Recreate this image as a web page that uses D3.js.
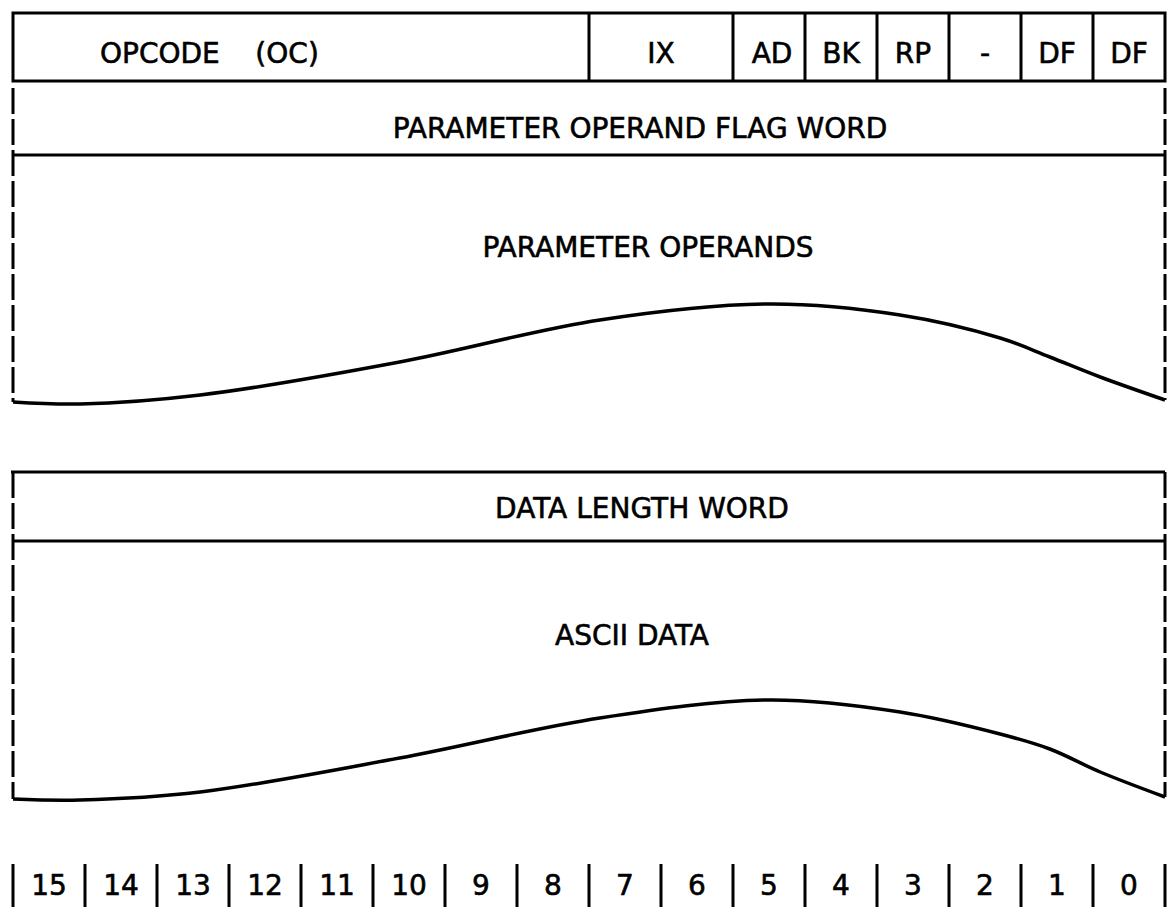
<!DOCTYPE html>
<html>
<head>
<meta charset="utf-8">
<script src="https://cdn.jsdelivr.net/npm/d3@7"></script>
<style>
  html, body { margin: 0; padding: 0; background: #fff; }
  svg { display: block; }
  text { font-family: "DejaVu Sans", sans-serif; fill: #000; stroke: #000; stroke-width: 0.6px; white-space: pre; }
</style>
</head>
<body>
<div id="chart"></div>
<script>
// ---- data ----
const bits = [15, 14, 13, 12, 11, 10, 9, 8, 7, 6, 5, 4, 3, 2, 1, 0];
const fieldLabels = ["OPCODE    (OC)", "IX", "AD", "BK", "RP", "-", "DF", "DF"];
const fieldHigh   = [15, 7, 5, 4, 3, 2, 1, 0];   // most significant bit of each field
const fieldLow    = [8, 6, 5, 4, 3, 2, 1, 0];    // least significant bit of each field
const sectionHeaders = ["PARAMETER OPERAND FLAG WORD", "DATA LENGTH WORD"];
const sectionBodies  = ["PARAMETER OPERANDS", "ASCII DATA"];
// torn-edge curves: [bit position, vertical position]
const curve1 = [[16, 402], [15.07, 404], [13.4, 395], [10.63, 362], [7.85, 320], [5.49, 304], [3.68, 315], [2.29, 338], [1.6, 357], [0.9, 377], [0, 400]];
const curve2 = [[16, 799], [15.07, 800], [13.4, 792], [10.63, 758], [7.85, 718], [5.49, 700], [3.68, 712], [2.29, 734], [1.6, 749], [0.9, 772], [0, 797]];

// ---- layout ----
const W = 1167, H = 915;
const svg = d3.select("#chart").append("svg").attr("width", W).attr("height", H);

const x = d3.scaleLinear().domain([16, 0]).range([13, 1165]);
const y = d3.scaleLinear().domain([0, 915]).range([0, 915]);

const FS = 28;
const SW = 3;

// top instruction word box
const wordBox = { y0: 13, y1: 81 };
svg.append("rect")
  .attr("x", x(16)).attr("y", y(wordBox.y0))
  .attr("width", x(0) - x(16)).attr("height", y(wordBox.y1) - y(wordBox.y0))
  .attr("fill", "none").attr("stroke", "#000").attr("stroke-width", SW);

// field dividers
svg.selectAll("line.fdiv").data(fieldLow.slice(0, -1)).enter().append("line")
  .attr("class", "fdiv")
  .attr("x1", d => x(d)).attr("x2", d => x(d))
  .attr("y1", y(wordBox.y0)).attr("y2", y(wordBox.y1))
  .attr("stroke", "#000").attr("stroke-width", SW);

// field labels
svg.selectAll("text.flab").data(fieldLabels).enter().append("text")
  .attr("class", "flab")
  .attr("x", (d, i) => i === 0 ? 100 : (x(fieldHigh[i] + 1) + x(fieldLow[i])) / 2 + (i === 2 ? 3 : 0))
  .attr("y", y(63))
  .attr("text-anchor", (d, i) => i === 0 ? "start" : "middle")
  .attr("font-size", FS)
  .text(d => d);

// sections
const sections = [
  { y0: 88, headerLine: 155, topLine: false, curve: curve1, header: sectionHeaders[0], body: sectionBodies[0], headerY: 138, bodyY: 257, headerX: 640, bodyX: 648 },
  { y0: 472, headerLine: 541, topLine: true, curve: curve2, header: sectionHeaders[1], body: sectionBodies[1], headerY: 518, bodyY: 645, headerX: 642, bodyX: 632 }
];

const line = d3.line().x(d => x(d[0])).y(d => y(d[1])).curve(d3.curveCatmullRom.alpha(0.5));

sections.forEach(s => {
  const c = s.curve;
  svg.append("line")
    .attr("x1", x(16)).attr("x2", x(16))
    .attr("y1", y(s.y0)).attr("y2", y(c[0][1]))
    .attr("stroke", "#000").attr("stroke-width", SW)
    .attr("stroke-dasharray", "26 5");
  svg.append("line")
    .attr("x1", x(0)).attr("x2", x(0))
    .attr("y1", y(s.y0)).attr("y2", y(c[c.length - 1][1]))
    .attr("stroke", "#000").attr("stroke-width", SW)
    .attr("stroke-dasharray", "26 5");
  if (s.topLine) {
    svg.append("line")
      .attr("x1", x(16) - 2).attr("x2", x(0))
      .attr("y1", y(s.y0)).attr("y2", y(s.y0))
      .attr("stroke", "#000").attr("stroke-width", SW);
  }
  svg.append("line")
    .attr("x1", x(16)).attr("x2", x(0))
    .attr("y1", y(s.headerLine)).attr("y2", y(s.headerLine))
    .attr("stroke", "#000").attr("stroke-width", SW);
  svg.append("path")
    .attr("d", line(c))
    .attr("fill", "none").attr("stroke", "#000").attr("stroke-width", 3.5)
    .attr("stroke-linejoin", "round");
  svg.append("text")
    .attr("x", s.headerX).attr("y", y(s.headerY))
    .attr("text-anchor", "middle").attr("font-size", FS)
    .text(s.header);
  svg.append("text")
    .attr("x", s.bodyX).attr("y", y(s.bodyY))
    .attr("text-anchor", "middle").attr("font-size", FS)
    .text(s.body);
});

// bit number row
const bitDivs = d3.range(17);
svg.selectAll("line.bdiv").data(bitDivs).enter().append("line")
  .attr("class", "bdiv")
  .attr("x1", d => x(d)).attr("x2", d => x(d))
  .attr("y1", y(864)).attr("y2", y(907))
  .attr("stroke", "#000").attr("stroke-width", SW);
svg.selectAll("text.bit").data(bits).enter().append("text")
  .attr("class", "bit")
  .attr("x", d => (x(d + 1) + x(d)) / 2)
  .attr("y", y(895))
  .attr("text-anchor", "middle").attr("font-size", FS)
  .text(d => d);
</script>
</body>
</html>
